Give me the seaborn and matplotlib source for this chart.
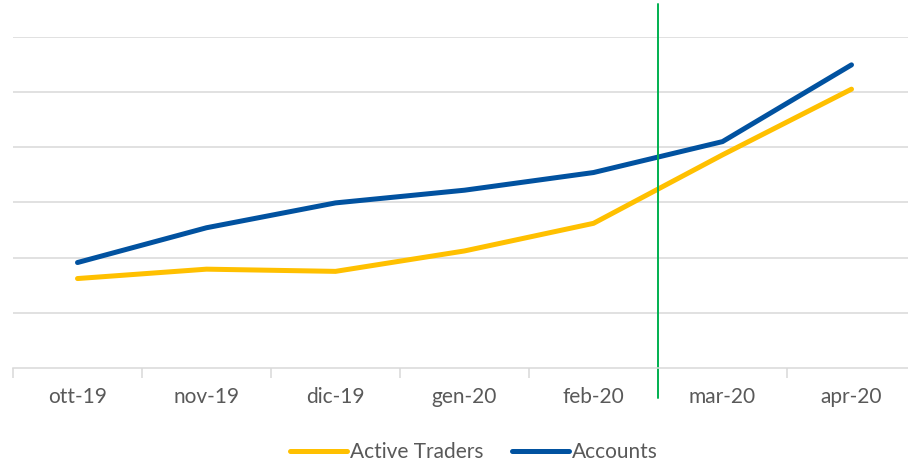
import matplotlib
matplotlib.use("Agg")
import matplotlib.pyplot as plt
import seaborn as sns
import pandas as pd
from matplotlib.ticker import FixedLocator, NullFormatter

# values (units of one gridline step)
months = ['ott-19', 'nov-19', 'dic-19', 'gen-20', 'feb-20', 'mar-20', 'apr-20']
active_traders = [1.62, 1.79, 1.75, 2.12, 2.62, 3.86, 5.05]
accounts = [1.91, 2.54, 2.99, 3.22, 3.54, 4.10, 5.49]

df = pd.concat([
    pd.DataFrame({'month': months, 'value': active_traders, 'series': 'Active Traders'}),
    pd.DataFrame({'month': months, 'value': accounts, 'series': 'Accounts'}),
])

sns.set_style('white')
plt.rcParams['font.family'] = ['Lato', 'DejaVu Sans']

W, H = 908, 463
fig = plt.figure(figsize=(W / 100, H / 100), dpi=100)
# axes box in pixels: x 13..916, y 36.7..368
ax = fig.add_axes([13 / W, 1 - 368 / H, 903 / W, (368 - 36.7) / H])

sns.lineplot(data=df, x='month', y='value', hue='series', sort=False,
             palette={'Active Traders': '#FFC000', 'Accounts': '#0152A0'},
             hue_order=['Active Traders', 'Accounts'],
             linewidth=3.6, ax=ax, legend=True)
for ln in ax.lines:
    ln.set_solid_capstyle('round')
    ln.set_solid_joinstyle('round')

ax.set_xlim(-0.5, 6.5)
ax.set_ylim(0, 6)
ax.yaxis.set_major_locator(FixedLocator([1, 2, 3, 4, 5, 6]))
ax.yaxis.set_major_formatter(NullFormatter())
ax.grid(axis='y', color='#D9D9D9', linewidth=1.1)
ax.set_axisbelow(True)
for s in ['top', 'right', 'left']:
    ax.spines[s].set_visible(False)
ax.spines['bottom'].set_color('#D9D9D9')
ax.spines['bottom'].set_linewidth(1.1)

ax.set_xticks(range(len(months)))
ax.set_xticklabels(months, fontsize=15, color='#595959')
ax.tick_params(axis='x', which='major', length=0, pad=14)
ax.xaxis.set_minor_locator(FixedLocator([i - 0.5 for i in range(len(months) + 1)]))
ax.tick_params(axis='x', which='minor', length=7, width=1.1, color='#D9D9D9', bottom=True)
ax.tick_params(axis='y', length=0)
ax.set_xlabel('')
ax.set_ylabel('')

# green divider between feb-20 and mar-20
ax.plot([4.5, 4.5], [6.59, -0.54], color='#00B050', linewidth=1.4, clip_on=False)

handles, labels = ax.get_legend_handles_labels()
ax.legend(handles, labels, loc='center', bbox_to_anchor=(474 / W, 1 - 452 / H),
          bbox_transform=fig.transFigure, ncol=2, frameon=False,
          fontsize=15, labelcolor='#595959', handlelength=2.7,
          handletextpad=0.15, columnspacing=1.4)

fig.savefig('out.png', dpi=100)
